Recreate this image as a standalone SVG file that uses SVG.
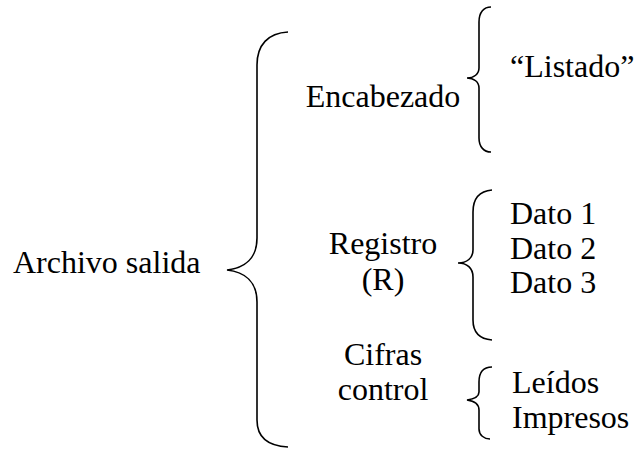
<svg xmlns="http://www.w3.org/2000/svg" width="637" height="455" viewBox="0 0 637 455">
<style>
text{font-size:32px;fill:#000}
.c{text-anchor:middle}
.b{fill:none;stroke:#000;stroke-width:1.6}
</style>
<rect width="637" height="455" fill="#fff"/>
<g id="connectors">
<path class="b" d="M288,32 C268,33 257,45 257,65 L257,238 C257,258 245,268 227,270 C245,272 257,282 257,302 L257,420 C257,437 268,446 288,447"/>
<path class="b" d="M491,7 C484,7 479,12 479,22 L479,68 C479,74 474,78 467,78 C474,78 479,82 479,88 L479,138 C479,147 484,152 491,152"/>
<path class="b" d="M492,190 C480,191 473,198 473,212 L473,250 C473,258 467,263 458,263 C467,263 473,268 473,277 L473,320 C473,333 480,339 492,340"/>
<path class="b" d="M492,367 C484,367 479,372 479,382 L479,392 C479,396 474,399 467,400 C474,401 479,404 479,410 L479,429 C479,435 484,439 490,439"/>
</g>
<g font-family="Liberation Serif, Tinos, DejaVu Serif, serif">
<g id="archivo"><text x="13" y="273">Archivo salida</text></g>
<g id="encabezado"><text class="c" x="383" y="107">Encabezado</text></g>
<g id="listado"><text x="510" y="77">“Listado”</text></g>
<g id="registro"><text class="c" x="383" y="254">Registro</text><text class="c" x="383" y="290">(R)</text></g>
<g id="datos"><text x="510" y="224">Dato 1</text><text x="510" y="258.5">Dato 2</text><text x="510" y="293">Dato 3</text></g>
<g id="cifras"><text class="c" x="383" y="365">Cifras</text><text class="c" x="383" y="400">control</text></g>
<g id="contadores"><text x="512" y="393">Leídos</text><text x="512" y="428">Impresos</text></g>
</g>
</svg>
